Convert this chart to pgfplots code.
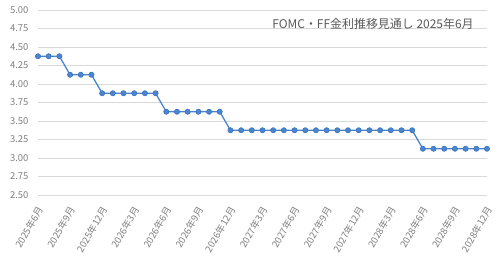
\documentclass[border=0pt]{standalone}
\usepackage{pgfplots}
\pgfplotsset{compat=1.18}
\usepackage{fontspec}
\setmainfont{Noto Sans CJK JP}
\definecolor{lineblue}{HTML}{4A86D0}
\definecolor{markedge}{HTML}{3A70C0}
\definecolor{gridc}{HTML}{D9D9D9}
\definecolor{labc}{HTML}{7F7F7F}
\definecolor{titc}{HTML}{595959}
\begin{document}
\begin{tikzpicture}
\path[use as bounding box] (-38bp,-62bp) rectangle (462bp,195bp);
\begin{axis}[
  at={(0,0)}, anchor=south west,
  scale only axis,
  width=449bp, height=185bp,
  xmin=0, xmax=42, ymin=2.5, ymax=5.0,
  ytick={2.5,2.75,...,5.0},
  yticklabel style={/pgf/number format/fixed,/pgf/number format/fixed zerofill,/pgf/number format/precision=2,/pgf/number format/assume math mode=true, font=\fontsize{9.5}{11}\selectfont, text=labc, xshift=-6pt},
  xtick={0,3,...,42},
  xticklabels={2025年6月,2025年9月,2025年12月,2026年3月,2026年6月,2026年9月,2026年12月,2027年3月,2027年6月,2027年9月,2027年12月,2028年3月,2028年6月,2028年9月,2028年12月},
  xticklabel style={xshift=-2pt, yshift=-9pt, rotate=60, anchor=north east, font=\fontsize{9.5}{11}\selectfont, text=labc, inner sep=1pt},
  ymajorgrids, grid style={gridc, line width=0.8pt},
  axis line style={draw=none},
  tick style={draw=none},
  clip=false,
]
\addplot[lineblue, line width=1.3pt, mark=*, mark size=2.6pt, mark options={fill=lineblue, draw=markedge, line width=0.6pt}] table {
x y
0 4.375
1 4.375
2 4.375
3 4.125
4 4.125
5 4.125
6 3.875
7 3.875
8 3.875
9 3.875
10 3.875
11 3.875
12 3.625
13 3.625
14 3.625
15 3.625
16 3.625
17 3.625
18 3.375
19 3.375
20 3.375
21 3.375
22 3.375
23 3.375
24 3.375
25 3.375
26 3.375
27 3.375
28 3.375
29 3.375
30 3.375
31 3.375
32 3.375
33 3.375
34 3.375
35 3.375
36 3.125
37 3.125
38 3.125
39 3.125
40 3.125
41 3.125
42 3.125
};
\node[anchor=east, text=titc, font=\fontsize{12}{14}\selectfont] at (rel axis cs:0.978,0.925) {FOMC・FF金利推移見通し 2025年6月};
\end{axis}
\end{tikzpicture}
\end{document}
